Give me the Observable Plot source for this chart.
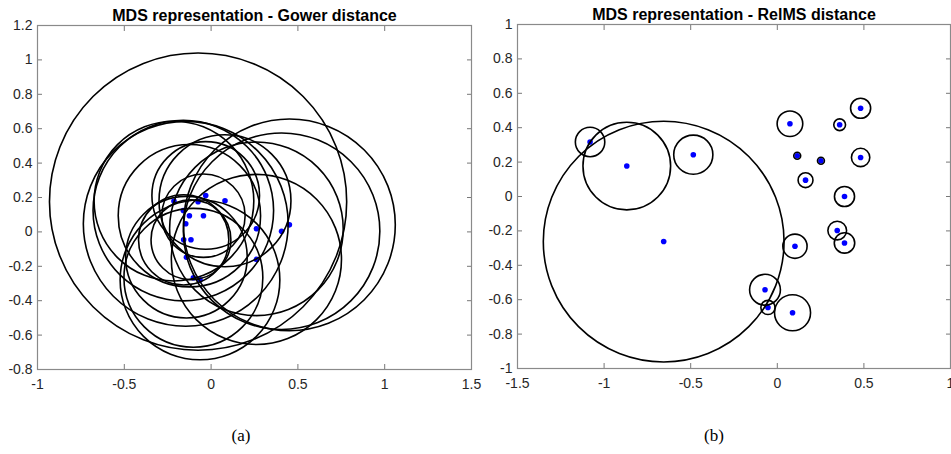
<!DOCTYPE html>
<html><head><meta charset="utf-8">
<script src="https://cdn.jsdelivr.net/npm/d3@7"></script>
<script src="https://cdn.jsdelivr.net/npm/@observablehq/plot@0.6"></script>
<style>
body{margin:0;background:#fff;}
#wrap{position:relative;width:951px;height:454px;overflow:hidden;background:#fff;}
.panel{position:absolute;top:0;}
.panel svg{overflow:visible;}
.cap{position:absolute;top:426px;font-family:"Liberation Serif","Times New Roman",serif;font-size:17px;color:#000;transform:translateX(-50%);}
</style></head><body>
<div id="wrap">
<div id="pa" class="panel" style="left:0px"></div>
<div id="pb" class="panel" style="left:480px"></div>
<div class="cap" style="left:241px">(a)</div>
<div class="cap" style="left:714px">(b)</div>
</div>
<script>
// Panel (a): Gower distance
const gowerTitle = "MDS representation - Gower distance";
const gowerX = [-0.214, -0.031, 0.080, -0.160, -0.125, -0.044, -0.146, 0.261, 0.406, 0.451, -0.158, -0.116, -0.142, 0.261, -0.102, -0.064, -0.075];
const gowerY = [0.179, 0.212, 0.181, 0.124, 0.094, 0.094, 0.047, 0.018, 0.004, 0.041, -0.046, -0.046, -0.147, -0.160, -0.267, -0.279, 0.176];
const gowerR = [0.46, 0.31, 0.38, 0.52, 0.41, 0.24, 0.59, 0.50, 0.566, 0.61, 0.26, 0.23, 0.35, 0.49, 0.40, 0.46, 0.856];
const gowerXTicks = [-1, -0.5, 0, 0.5, 1, 1.5];
const gowerYTicks = [-0.8, -0.6, -0.4, -0.2, 0, 0.2, 0.4, 0.6, 0.8, 1, 1.2];

// Panel (b): RelMS distance
const relmsTitle = "MDS representation - RelMS distance";
const relmsX = [-1.081, -0.869, -0.485, -0.656, 0.073, 0.360, 0.481, 0.115, 0.252, 0.481, 0.163, 0.388, 0.346, 0.388, 0.102, -0.071, -0.054, 0.088];
const relmsY = [0.317, 0.177, 0.243, -0.262, 0.423, 0.417, 0.513, 0.237, 0.208, 0.227, 0.095, 0.0, -0.198, -0.270, -0.289, -0.542, -0.645, -0.676];
const relmsR = [0.085, 0.253, 0.113, 0.695, 0.074, 0.034, 0.058, 0.02, 0.02, 0.053, 0.043, 0.058, 0.054, 0.059, 0.070, 0.089, 0.041, 0.104];
const relmsXTicks = [-1.5, -1, -0.5, 0, 0.5, 1];
const relmsYTicks = [-1, -0.8, -0.6, -0.4, -0.2, 0, 0.2, 0.4, 0.6, 0.8, 1];

const fmt = d => String(+d.toFixed(2));
const blank = () => "";

function panel({xs, ys, rs, xDomain, yDomain, xTicks, yTicks, title, width, height, ml, mr, mt, mb}) {
  const data = xs.map((x, i) => ({x, y: ys[i], r: rs[i]}));
  const k = (width - ml - mr) / (xDomain[1] - xDomain[0]);
  return Plot.plot({
    width, height,
    marginLeft: ml, marginRight: mr, marginTop: mt, marginBottom: mb,
    style: {background: "transparent", overflow: "visible", fontFamily: "'Liberation Sans', Arial, sans-serif", fontSize: "14px", color: "#262626"},
    x: {domain: xDomain, label: null},
    y: {domain: yDomain, label: null},
    r: {type: "linear", domain: [0, 1], range: [0, k]},
    marks: [
      Plot.axisX(xTicks, {anchor: "bottom", tickSize: -5, tickPadding: 15, tickFormat: fmt, label: null, stroke: "#777", fontSize: 14}),
      Plot.axisX(xTicks, {anchor: "top", tickSize: -5, tickFormat: blank, label: null, stroke: "#777"}),
      Plot.axisY(yTicks, {anchor: "left", tickSize: -5, tickPadding: 10, tickFormat: fmt, label: null, stroke: "#777", fontSize: 14}),
      Plot.axisY(yTicks, {anchor: "right", tickSize: -5, tickFormat: blank, label: null, stroke: "#777"}),
      Plot.frame({stroke: "#8a8a8a", strokeWidth: 1.2}),
      Plot.dot(data, {x: "x", y: "y", r: 2.8, fill: "#0000ff"}),
      Plot.dot(data, {x: "x", y: "y", r: "r", stroke: "#000", strokeWidth: 1.6, fill: "none"}),
      Plot.text([title], {frameAnchor: "top", dy: -16, fontWeight: "bold", fontSize: 16, fill: "#000"})
    ]
  });
}

document.getElementById("pa").append(panel({
  xs: gowerX, ys: gowerY, rs: gowerR,
  xDomain: [-1, 1.5], yDomain: [-0.8, 1.2],
  xTicks: gowerXTicks, yTicks: gowerYTicks, title: gowerTitle,
  width: 476, height: 400, ml: 37, mr: 5, mt: 25, mb: 31
}));
document.getElementById("pb").append(panel({
  xs: relmsX, ys: relmsY, rs: relmsR,
  xDomain: [-1.5, 1], yDomain: [-1, 1],
  xTicks: relmsXTicks, yTicks: relmsYTicks, title: relmsTitle,
  width: 471, height: 400, ml: 37, mr: 1, mt: 24, mb: 32
}));
</script>
</body></html>
